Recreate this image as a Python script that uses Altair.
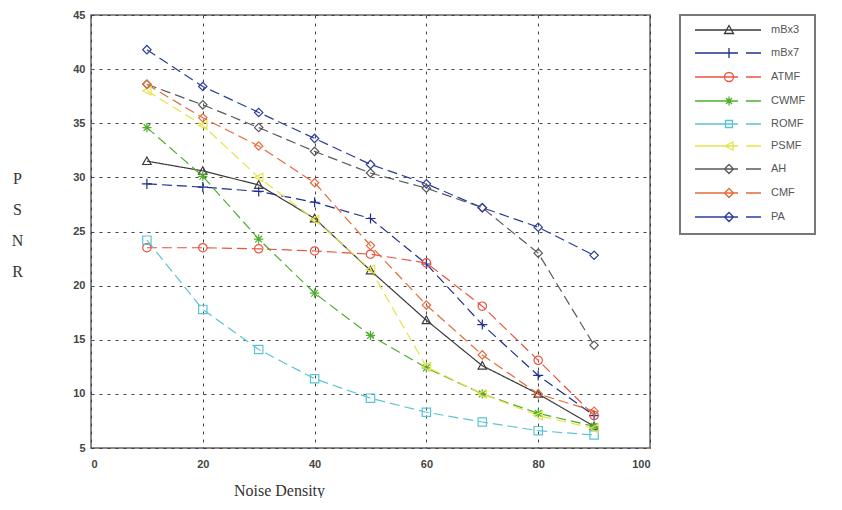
import altair as alt
import pandas as pd

noise = [10, 20, 30, 40, 50, 60, 70, 80, 90]
series = ["mBx3", "mBx7", "ATMF", "CWMF", "ROMF", "PSMF", "AH", "CMF", "PA"]

mBx3 = [31.5, 30.6, 29.3, 26.2, 21.4, 16.8, 12.6, 10.0, 7.0]
mBx7 = [29.4, 29.1, 28.7, 27.7, 26.2, 22.0, 16.4, 11.7, 8.0]
ATMF = [23.5, 23.5, 23.4, 23.2, 22.9, 22.1, 18.1, 13.1, 8.0]
CWMF = [34.6, 30.1, 24.3, 19.3, 15.4, 12.4, 10.0, 8.2, 7.0]
ROMF = [24.2, 17.8, 14.1, 11.4, 9.6, 8.3, 7.4, 6.6, 6.2]
PSMF = [38.0, 34.8, 30.0, 26.1, 21.5, 12.5, 10.0, 8.0, 6.8]
AH = [38.6, 36.7, 34.6, 32.4, 30.4, 29.0, 27.2, 23.0, 14.5]
CMF = [38.6, 35.5, 32.9, 29.5, 23.7, 18.2, 13.6, 10.0, 8.4]
PA = [41.8, 38.4, 36.0, 33.6, 31.2, 29.4, 27.2, 25.4, 22.8]

values = [mBx3, mBx7, ATMF, CWMF, ROMF, PSMF, AH, CMF, PA]

colors = ["#3a3a3a", "#1f2f8f", "#e8533f", "#4fae2c", "#5cc4d4",
          "#e6e34a", "#5a5a5a", "#e66a3a", "#2c3c9c"]

x_ticks = [0, 20, 40, 60, 80, 100]
y_ticks = [5, 10, 15, 20, 25, 30, 35, 40, 45]

rows = []
for name, vals in zip(series, values):
    for xv, yv in zip(noise, vals):
        rows.append({"series": name, "noise": xv, "psnr": yv})
df = pd.DataFrame(rows)

dashes = [[1, 0]] + [[10, 5]] * 8

# plot marker shapes
tri = "M0,-1L1,0.8L-1,0.8Z"
plus = "M-1.2,0H1.2M0,-1.2V1.2"
star = "M-1.1,0H1.1M0,-1.1V1.1M-0.8,-0.8L0.8,0.8M-0.8,0.8L0.8,-0.8"
ltri = "M1,-1L-1,0L1,1Z"
marker_shapes = [tri, plus, "circle", star, "square", ltri, "diamond", "diamond", "diamond"]

# legend symbols: line sample plus marker
solid = "M0,0H13.2"
dashed = "M0,0H8.6M10.2,0H13.2"
m_tri = "M6.8,-0.9L7.7,0.7L5.9,0.7Z"
m_plus = "M5.8,0H7.8M6.8,-1V1"
m_circ = "M7.7,0A0.9,0.9 0 1,1 5.9,0A0.9,0.9 0 1,1 7.7,0"
m_star = "M5.9,0H7.7M6.8,-0.9V0.9M6.2,-0.6L7.4,0.6M6.2,0.6L7.4,-0.6"
m_sq = "M6.1,-0.7H7.5V0.7H6.1Z"
m_ltri = "M7.6,-0.8L6.0,0L7.6,0.8Z"
m_dia = "M6.8,-0.9L7.7,0L6.8,0.9L5.9,0Z"
legend_shapes = [solid + m_tri, dashed + m_plus, dashed + m_circ, dashed + m_star,
                 dashed + m_sq, dashed + m_ltri, dashed + m_dia, dashed + m_dia,
                 dashed + m_dia]

lab_expr = "datum.label + '" + "\u00a0" * 11 + "'"

x_enc = alt.X("noise:Q", scale=alt.Scale(domain=[0, 100], nice=False),
              axis=alt.Axis(values=x_ticks, title="Noise Density",
                            titleX=188, titleY=47, titleAlign="center",
                            titleBaseline="alphabetic", titleAnchor="start"))
y_enc = alt.Y("psnr:Q", scale=alt.Scale(domain=[5, 45], nice=False),
              axis=alt.Axis(values=y_ticks, title=["P", "S", "N", "R"],
                            titleAngle=0, titleX=-74, titleY=155,
                            titleAlign="center", titleBaseline="top",
                            titleLineHeight=31, titleAnchor="start"))

color_scale = alt.Scale(domain=series, range=colors)

lines = alt.Chart(df).mark_line(strokeWidth=1.2).encode(
    x=x_enc, y=y_enc,
    color=alt.Color("series:N", scale=color_scale, legend=None),
    strokeDash=alt.StrokeDash("series:N", scale=alt.Scale(domain=series, range=dashes),
                              legend=None),
)

points = alt.Chart(df).mark_point(filled=False, size=70, opacity=1, strokeWidth=1.2).encode(
    x="noise:Q", y="psnr:Q",
    color=alt.Color("series:N", scale=color_scale, legend=None),
    shape=alt.Shape("series:N", scale=alt.Scale(domain=series, range=marker_shapes),
                    legend=None),
)

legend_layer = alt.Chart(df).mark_point(filled=False, opacity=1).encode(
    x="noise:Q", y="psnr:Q",
    color=alt.Color("series:N", scale=color_scale,
                    legend=alt.Legend(title=None, labelExpr=lab_expr)),
    shape=alt.Shape("series:N", scale=alt.Scale(domain=series, range=legend_shapes),
                    legend=alt.Legend(title=None, labelExpr=lab_expr)),
).transform_filter("false")

chart = alt.layer(lines, points, legend_layer).resolve_scale(
    shape="independent", color="independent", strokeDash="independent"
).properties(
    width=559, height=433, autosize="none",
    padding={"left": 83, "top": 7, "right": 184, "bottom": 50},
).configure_view(
    stroke="#666", strokeWidth=1.5
).configure_axis(
    grid=True, gridColor="#333", gridDash=[3, 5], gridWidth=1, gridOpacity=0.9,
    domain=False, ticks=False,
    labelFont="Liberation Sans", labelFontSize=11, labelFontWeight="bold",
    labelColor="#444",
    titleFont="Liberation Serif", titleFontSize=16, titleFontWeight="normal",
    titleColor="#333",
).configure_axisX(labelPadding=10).configure_axisY(labelPadding=6).configure_legend(
    orient="right", offset=30, padding=9, strokeColor="#777", strokeWidth=2,
    fillColor="white", symbolSize=100, symbolStrokeWidth=1.3,
    labelOffset=70, labelFont="Liberation Sans", labelFontSize=11,
    labelColor="#555", rowPadding=8,
)

chart.save("out.html", embed_options={"renderer": "svg", "actions": False})
